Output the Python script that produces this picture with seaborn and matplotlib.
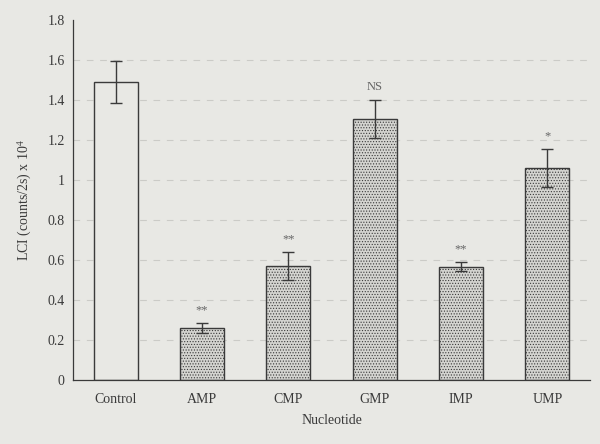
import matplotlib
matplotlib.use("Agg")
import matplotlib.pyplot as plt
import seaborn as sns
import pandas as pd
import numpy as np

categories = ["Control", "AMP", "CMP", "GMP", "IMP", "UMP"]
values = [1.49, 0.26, 0.57, 1.305, 0.567, 1.06]
errors = [0.105, 0.025, 0.07, 0.095, 0.022, 0.095]
marks = ["", "**", "**", "NS", "**", "*"]
yticks = [0, 0.2, 0.4, 0.6, 0.8, 1.0, 1.2, 1.4, 1.6, 1.8]
ytick_labels = ["0", "0.2", "0.4", "0.6", "0.8", "1", "1.2", "1.4", "1.6", "1.8"]

sns.set_style("white")
plt.rcParams["font.family"] = ["Liberation Serif", "DejaVu Serif"]
plt.rcParams["mathtext.fontset"] = "stix"
plt.rcParams["hatch.linewidth"] = 0.5
plt.rcParams["hatch.color"] = "#555555"

bg = "#e8e8e4"
ink = "#3a3a3a"

fig = plt.figure(figsize=(6, 4.44), dpi=100, facecolor=bg)
ax = fig.add_axes([0.122, 0.144, 0.861, 0.811], facecolor=bg)

df = pd.DataFrame({"cat": categories, "val": values})
sns.barplot(data=df, x="cat", y="val", ax=ax, width=0.51, color="#d0d0cc",
            edgecolor=ink, linewidth=1.0, errorbar=None)
for i, p in enumerate(ax.patches):
    if i == 0:
        p.set_facecolor(bg)
    else:
        p.set_hatch("......")
        p.set_facecolor("#d4d4d0")

ax.errorbar(np.arange(len(categories)), values, yerr=errors, fmt="none",
            ecolor=ink, elinewidth=1.0, capsize=4, capthick=1.0)

for i, (v, e, m) in enumerate(zip(values, errors, marks)):
    if m:
        ax.text(i, v + e + 0.035, m, ha="center", va="bottom", fontsize=9, color="#666666")

for y in yticks[1:-1]:
    ax.axhline(y, color="#cbcbc7", lw=0.8, ls=(0, (6, 6)), zorder=0)

ax.set_xlim(-0.49, 5.49)
ax.set_ylim(0, 1.8)
ax.set_yticks(yticks)
ax.set_yticklabels(ytick_labels)
ax.set_xticks(np.arange(len(categories)))
ax.set_xticklabels(categories)
ax.set_xticks(np.arange(len(categories) - 1) + 0.5, minor=True)
ax.tick_params(axis="y", direction="in", length=5, width=0.8, color=ink, labelsize=10, labelcolor=ink, pad=6)
ax.tick_params(axis="x", which="major", length=0, labelsize=10, labelcolor=ink, pad=9)
ax.tick_params(axis="x", which="minor", direction="in", length=4, width=0.8, color=ink)

for s in ["top", "right"]:
    ax.spines[s].set_visible(False)
for s in ["left", "bottom"]:
    ax.spines[s].set_color(ink)
    ax.spines[s].set_linewidth(0.9)

ax.set_xlabel("Nucleotide", fontsize=10, color=ink, labelpad=6)
ax.set_ylabel("LCI (counts/2s) x 10$^{4}$", fontsize=10, color=ink, labelpad=10)

fig.savefig("out.png", dpi=100, facecolor=bg)
